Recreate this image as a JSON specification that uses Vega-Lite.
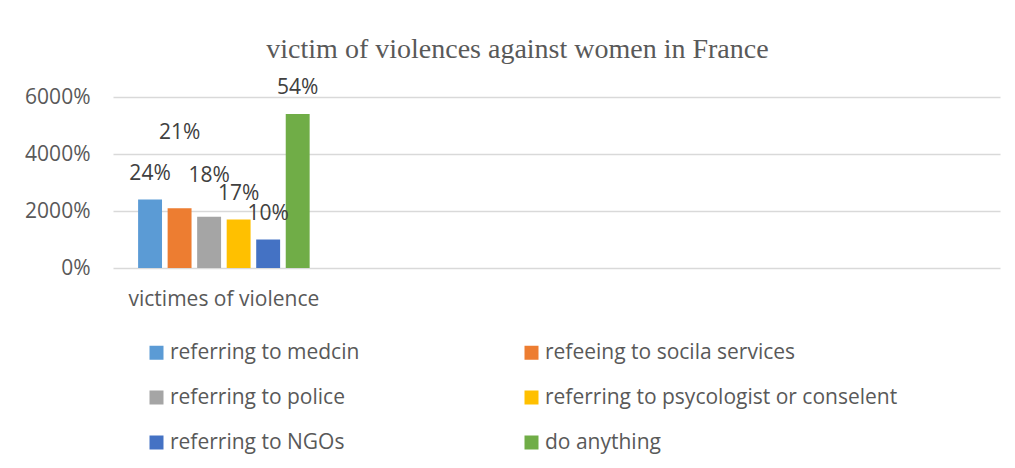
{
  "$schema": "https://vega.github.io/schema/vega-lite/v6.json",
  "width": 887,
  "height": 171,
  "autosize": "none",
  "padding": {"left": 113, "top": 97, "right": 15, "bottom": 200},
  "background": "white",
  "title": {
    "text": "victim of violences against women in France",
    "font": "Liberation Serif",
    "fontSize": 28,
    "fontWeight": "normal",
    "color": "#595959",
    "anchor": "middle",
    "dx": -39,
    "offset": 13
  },
  "data": {
    "values": [
      {"group": "victimes of violence", "series": "referring to medcin", "value": 24, "label": "24%"},
      {"group": "victimes of violence", "series": "refeeing to socila services", "value": 21, "label": "21%"},
      {"group": "victimes of violence", "series": "referring to police", "value": 18, "label": "18%"},
      {"group": "victimes of violence", "series": "referring to psycologist or conselent", "value": 17, "label": "17%"},
      {"group": "victimes of violence", "series": "referring to NGOs", "value": 10, "label": "10%"},
      {"group": "victimes of violence", "series": "do anything", "value": 54, "label": "54%"}
    ]
  },
  "encoding": {
    "x": {
      "field": "group",
      "type": "nominal",
      "scale": {"domain": ["victimes of violence", "g2", "g3", "g4"], "paddingInner": 0, "paddingOuter": 0},
      "axis": {
        "title": null,
        "labelAngle": 0,
        "labelExpr": "datum.value == 'victimes of violence' ? datum.value : ''",
        "labelFont": "Open Sans",
        "labelFontSize": 21,
        "labelColor": "#595959",
        "labelPadding": 20,
        "labelLimit": 400,
        "domain": false,
        "ticks": false,
        "grid": false
      }
    },
    "xOffset": {
      "field": "series",
      "type": "nominal",
      "sort": null,
      "scale": {"paddingInner": 0.19, "paddingOuter": 0.85}
    },
    "y": {
      "field": "value",
      "type": "quantitative",
      "scale": {"domain": [0, 60], "nice": false},
      "axis": {
        "title": null,
        "values": [0, 20, 40, 60],
        "labelExpr": "datum.value == 0 ? '0%' : format(datum.value, '.0f') + '00%'",
        "labelFont": "Open Sans",
        "labelFontSize": 21,
        "labelColor": "#595959",
        "labelPadding": 23,
        "domain": false,
        "ticks": false,
        "gridColor": "#d9d9d9",
        "gridWidth": 1.5
      }
    },
    "color": {
      "field": "series",
      "type": "nominal",
      "scale": {
        "domain": ["referring to medcin", "referring to police", "referring to NGOs", "refeeing to socila services", "referring to psycologist or conselent", "do anything"],
        "range": ["#5B9BD5", "#A5A5A5", "#4472C4", "#ED7D31", "#FFC000", "#70AD47"]
      },
      "legend": {
        "title": null,
        "orient": "none",
        "legendX": 33,
        "legendY": 245,
        "columns": 2,
        "gridAlign": "each",
        "columnPadding": 161,
        "rowPadding": 23,
        "symbolType": "square",
        "symbolSize": 196,
        "symbolStrokeWidth": 0,
        "labelFont": "Open Sans",
        "labelFontSize": 21,
        "labelColor": "#595959",
        "labelOffset": 3,
        "labelLimit": 500,
        "padding": 0
      }
    }
  },
  "layer": [
    {"mark": {"type": "bar"}},
    {
      "transform": [{"filter": "datum.value != 21 && datum.value != 18"}],
      "mark": {"type": "text", "baseline": "middle", "dy": -26, "font": "Open Sans", "fontSize": 21},
      "encoding": {"text": {"field": "label"}, "color": {"value": "#404040"}}
    },
    {
      "transform": [{"filter": "datum.value == 21"}],
      "mark": {"type": "text", "baseline": "middle", "dy": -75, "font": "Open Sans", "fontSize": 21},
      "encoding": {"text": {"field": "label"}, "color": {"value": "#404040"}}
    },
    {
      "transform": [{"filter": "datum.value == 18"}],
      "mark": {"type": "text", "baseline": "middle", "dy": -41, "font": "Open Sans", "fontSize": 21},
      "encoding": {"text": {"field": "label"}, "color": {"value": "#404040"}}
    }
  ],
  "config": {"view": {"stroke": null}}
}
